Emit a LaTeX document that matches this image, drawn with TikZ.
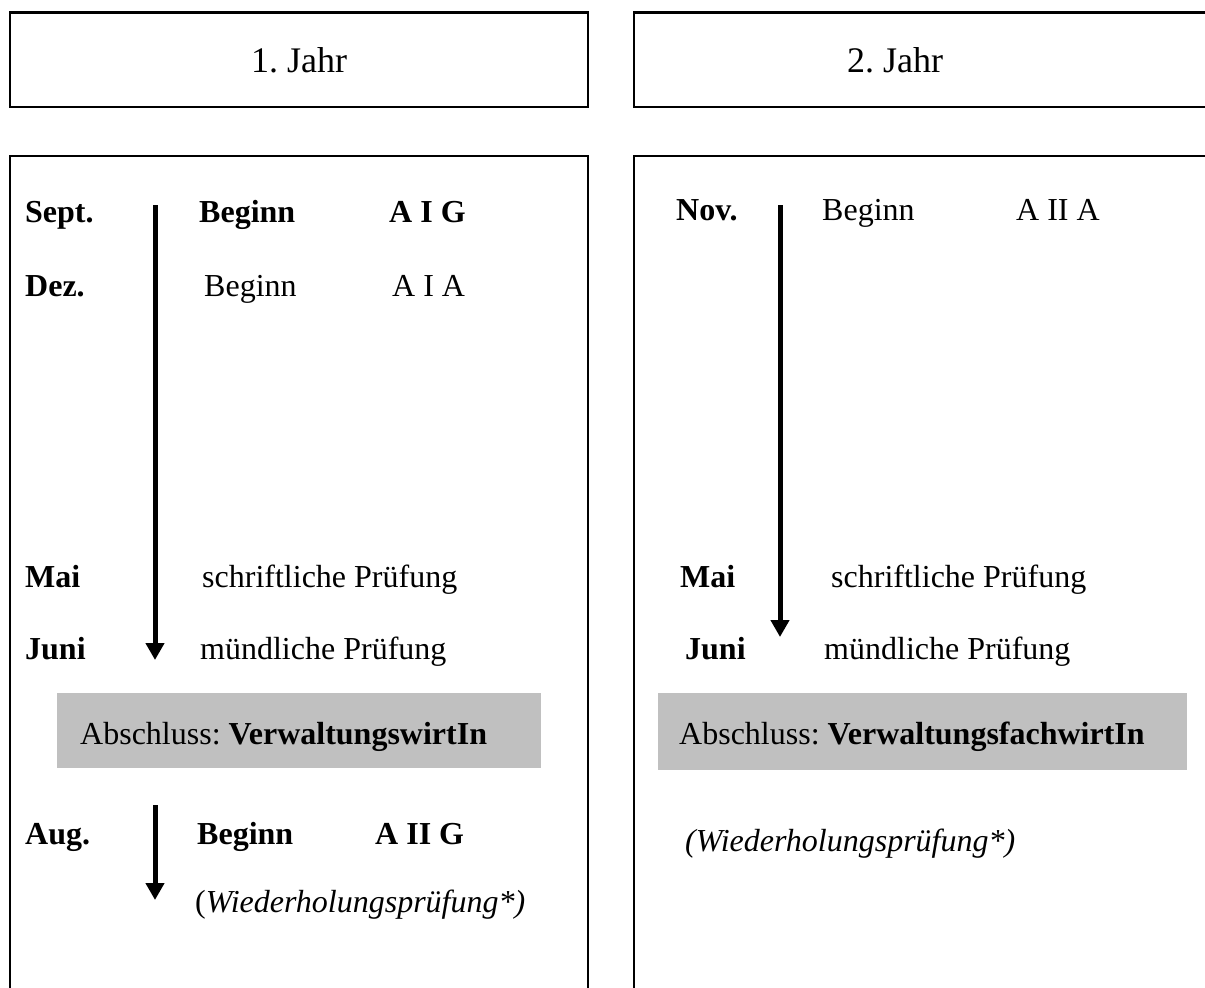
\documentclass[tikz,border=0pt]{standalone}
\usepackage{fontspec}
\setmainfont{Liberation Serif}
\usetikzlibrary{arrows.meta}
\definecolor{boxgrey}{RGB}{192,192,192}
\frenchspacing
\begin{document}
\begin{tikzpicture}[x=1pt,y=-1pt,
  txt/.style={inner sep=0pt, anchor=base west, font=\fontsize{32}{38}\selectfont},
  btxt/.style={txt, font=\fontsize{32}{38}\selectfont\bfseries},
  itxt/.style={txt, font=\fontsize{32}{38}\selectfont\itshape},
  headtxt/.style={inner sep=0pt, anchor=base, font=\fontsize{36}{42}\selectfont},
  hedge/.style={line width=2.7pt},
  vedge/.style={line width=1.5pt},
  greybox/.style={fill=boxgrey, draw=none, anchor=north west, inner sep=0pt},
  timeline/.style={line width=5pt, -{Triangle[length=17pt,width=18pt]}}
]
\useasboundingbox (0,0) rectangle (1205,988);
\clip (0,0) rectangle (1205,988);

% ---------- frames ----------
% header boxes
\draw[hedge] (9,12.5) -- (589,12.5);
\draw[hedge] (9,107) -- (589,107);
\draw[vedge] (10,12) -- (10,108);
\draw[vedge] (588,12) -- (588,108);
\draw[hedge] (633,12.5) -- (1210,12.5);
\draw[hedge] (633,107) -- (1210,107);
\draw[vedge] (634,12) -- (634,108);
% body boxes
\draw[hedge] (9,156) -- (589,156);
\draw[vedge] (10,155) -- (10,995);
\draw[vedge] (588,155) -- (588,995);
\draw[hedge] (633,156) -- (1210,156);
\draw[vedge] (634,155) -- (634,995);

% ---------- headers ----------
\node[headtxt] (j1) at (299,72) {1. Jahr};
\node[headtxt] (j2) at (895,72) {2. Jahr};

% ---------- left column ----------
\node[btxt] (sept) at (25,222) {Sept.};
\node[btxt] (b1) at (199,222) {Beginn};
\node[btxt] (aig) at (389,222) {A I G};
\node[btxt] (dez) at (25,296) {Dez.};
\node[txt] (b2) at (204,296) {Beginn};
\node[txt] (aia) at (392,296) {A I A};
\node[btxt] (mai1) at (25,587) {Mai};
\node[txt] (sp1) at (202,587) {schriftliche Prüfung};
\node[btxt] (juni1) at (25,659) {Juni};
\node[txt] (mp1) at (200,659) {mündliche Prüfung};
\node[greybox, minimum width=484pt, minimum height=75pt] (g1) at (57,693) {};
\node[txt] (abs1) at (80,744) {Abschluss: \textbf{VerwaltungswirtIn}};
\node[btxt] (aug) at (25,844) {Aug.};
\node[btxt] (b3) at (197,844) {Beginn};
\node[btxt] (aiig) at (375,844) {A II G};
\node[txt] (wh1) at (195,912) {(\textit{Wiederholungsprüfung*)}};

\coordinate (l1s) at (155,205);
\coordinate (l1e) at (155,660);
\draw[timeline] (l1s) -- (l1e);
\coordinate (l2s) at (155,805);
\coordinate (l2e) at (155,900);
\draw[timeline] (l2s) -- (l2e);

% ---------- right column ----------
\node[btxt] (nov) at (676,220) {Nov.};
\node[txt] (b4) at (822,220) {Beginn};
\node[txt] (aiia) at (1016,220) {A II A};
\node[btxt] (mai2) at (680,587) {Mai};
\node[txt] (sp2) at (831,587) {schriftliche Prüfung};
\node[btxt] (juni2) at (685,659) {Juni};
\node[txt] (mp2) at (824,659) {mündliche Prüfung};
\node[greybox, minimum width=529pt, minimum height=77pt] (g2) at (658,693) {};
\node[txt] (abs2) at (679,744) {Abschluss: \textbf{VerwaltungsfachwirtIn}};
\node[itxt] (wh2) at (685,851) {(Wiederholungsprüfung*)};

\coordinate (r1s) at (780,205);
\coordinate (r1e) at (780,637);
\draw[timeline] (r1s) -- (r1e);
\end{tikzpicture}
\end{document}
